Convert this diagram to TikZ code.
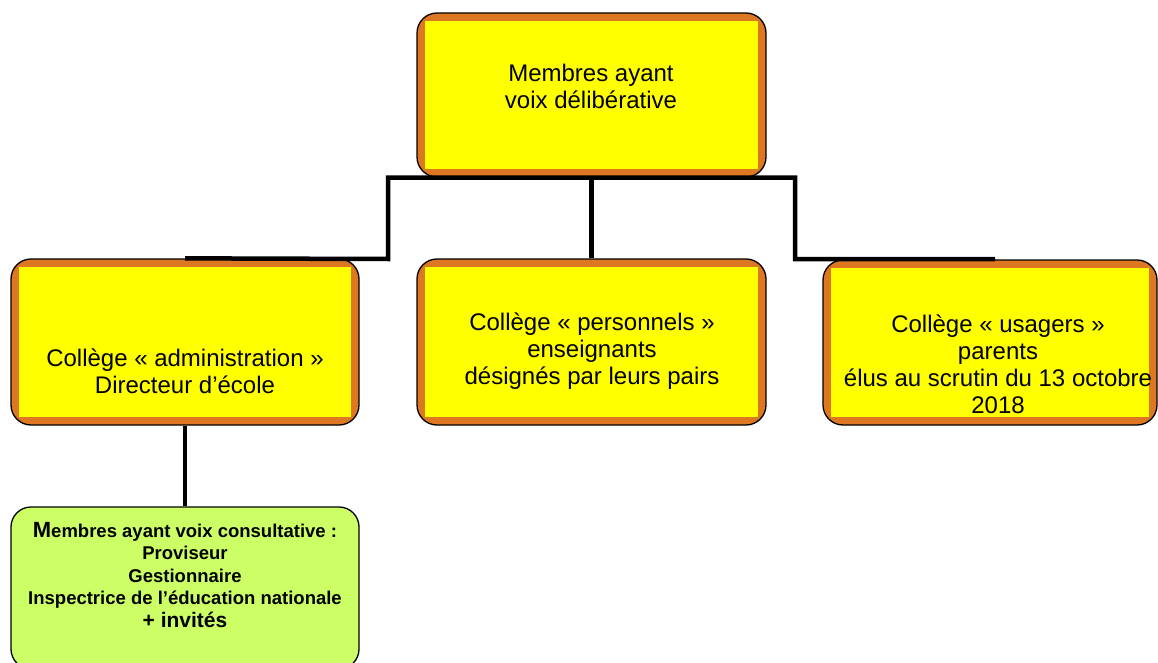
\documentclass[tikz,border=0pt]{standalone}
\usepackage{fontspec}
\setmainfont{Liberation Sans}
\definecolor{band}{RGB}{221,119,34}
\definecolor{ylw}{RGB}{255,255,0}
\definecolor{grn}{RGB}{204,255,102}
\begin{document}
\begin{tikzpicture}[x=1pt,y=-1pt,
  ybox/.style={draw=black, line width=1.3pt, fill=band, rounded corners=20pt, inner sep=0pt,
    path picture={\fill[ylw, sharp corners] ([shift={(8pt,-8pt)}]path picture bounding box.north west) rectangle ([shift={(-8pt,8pt)}]path picture bounding box.south east);}},
  gbox/.style={draw=black, line width=1.3pt, fill=grn, rounded corners=20pt, inner sep=0pt},
  txt/.style={align=center, font=\fontsize{24}{27}\selectfont, inner sep=0pt},
  gtxt/.style={align=center, font=\fontsize{18.5}{22.5}\selectfont\bfseries, inner sep=0pt},
  conn/.style={line width=4.5pt, black}]
\useasboundingbox (0,0) rectangle (1158,663);
\begin{scope}
\clip (0,0) rectangle (1158,663);
% boxes
\node[ybox, minimum width=349pt, minimum height=164pt] (top) at (591.5,95) {};
\node[ybox, minimum width=348pt, minimum height=166pt] (left) at (185,342) {};
\node[ybox, minimum width=349pt, minimum height=166pt] (mid) at (591.5,342) {};
\node[ybox, minimum width=334pt, minimum height=165pt] (right) at (990,342.5) {};
\node[gbox, minimum width=348pt, minimum height=162pt] (green) at (185,588) {};
% texts
\node[txt] (toptxt) at (591,86.5) {Membres ayant\\voix délibérative};
\node[txt] (lefttxt) at (185,371) {Collège « administration »\\Directeur d’école};
\node[txt] (midtxt) at (592,351.5) {Collège « personnels »\\enseignants\\désignés par leurs pairs};
\node[txt] (righttxt) at (998,364) {Collège « usagers »\\parents\\élus au scrutin du 13 octobre\\2018};
\node[gtxt] (greentxt) at (185,575) {{\fontsize{22}{22.5}\selectfont M}embres ayant voix consultative :\\Proviseur\\Gestionnaire\\Inspectrice de l’éducation nationale\\{\fontsize{21}{22.5}\selectfont + invités}};
\end{scope}
% connectors
\coordinate (ja) at (388,259);
\coordinate (jb) at (795,259);
\coordinate (rend) at (995,259);
\draw[conn] (left.north) -- (ja) -- (ja |- top.south) -- (jb |- top.south) -- (jb) -- (rend);
\draw[conn] (top.south) -- (mid.north);
\draw[conn] (left.south) -- (green.north);
\end{tikzpicture}
\end{document}
